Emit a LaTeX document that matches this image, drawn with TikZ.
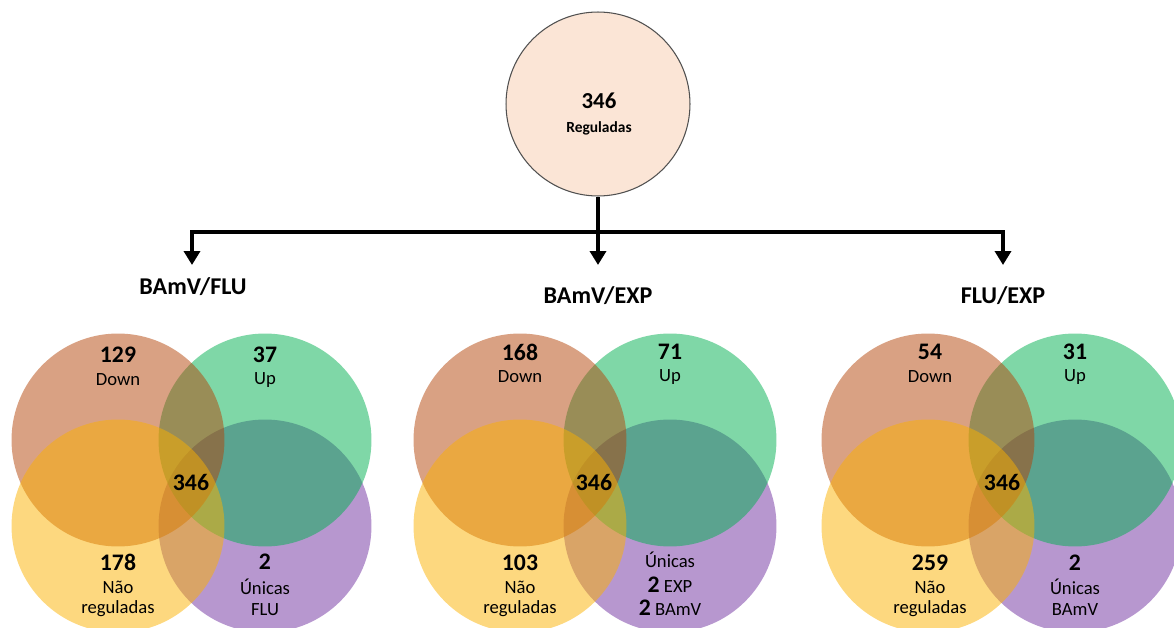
\documentclass[tikz,border=0pt]{standalone}
\usepackage{fontspec}
\setmainfont{Carlito}
\usepackage{tikz}
\usetikzlibrary{arrows.meta,positioning}
\definecolor{peach}{HTML}{FBE5D6}
\definecolor{rim}{HTML}{505050}
\definecolor{vdown}{HTML}{B44408}
\definecolor{vup}{HTML}{00B050}
\definecolor{vnot}{HTML}{FBB100}
\definecolor{vonly}{HTML}{7030A0}
\tikzset{
  venn/.style={
    circle, fill=#1, fill opacity=0.5, draw=none,
    minimum size=4.26cm, inner sep=0pt
  },
  venn/.default=vdown,
  rootcircle/.style={
    circle, fill=peach, draw=rim, line width=0.6pt,
    minimum size=3.68cm, inner sep=0pt
  },
  numlabel/.style={
    font=\fontsize{13.5}{15}\selectfont\bfseries, inner sep=0pt
  },
  txtlabel/.style={
    font=\fontsize{10.6}{12}\selectfont, inner sep=0pt
  },
  grouptitle/.style={
    font=\fontsize{13.7}{15}\selectfont\bfseries, inner sep=0pt
  },
  linkline/.style={
    line width=2.1pt
  },
  linkarrow/.style={
    line width=2.1pt, -{Triangle[length=0.28cm, width=0.32cm]}
  },
}

\begin{document}
\begin{tikzpicture}[x=0.02cm, y=-0.02cm]
  \useasboundingbox (0,0) rectangle (1174,628);
  \clip (0,0) rectangle (1174,628);

  % root
  \node[rootcircle] (reg) at (598,104) {};
  \node[font=\fontsize{13}{15}\selectfont\bfseries, inner sep=0pt]
    (reg-n) at (599,101) {346};
  \node[font=\fontsize{8.8}{10}\selectfont\bfseries, inner sep=0pt]
    (reg-t) at (599,128) {Reguladas};

  \coordinate (split) at (598,232);
  \coordinate (bf-tip) at (192,265);
  \coordinate (be-tip) at (598,265);
  \coordinate (fe-tip) at (1003,265);

  \draw[linkline] (reg) -- (split);
  \draw[linkarrow] (split) -- (be-tip);
  \draw[linkarrow] (split) -| (bf-tip);
  \draw[linkarrow] (split) -| (fe-tip);

  \node[grouptitle] (bf-title) at (193,287) {BAmV/FLU};
  \node[grouptitle] (be-title) at (598,296) {BAmV/EXP};
  \node[grouptitle] (fe-title) at (1003,296) {FLU/EXP};

  % BAmV/FLU
  \node[venn=vonly] (bf-only) at (265,526) {};
  \node[venn=vup] (bf-up) at (265,440) {};
  \node[venn=vdown] (bf-down) at (118,440) {};
  \node[venn=vnot] (bf-not) at (118,526) {};
  \node[numlabel] (bf-down-n) at (118,355) {129};
  \node[txtlabel] (bf-down-t) at (118,380) {Down};
  \node[numlabel] (bf-up-n) at (265,355) {37};
  \node[txtlabel] (bf-up-t) at (265,380) {Up};
  \node[numlabel] (bf-all) at (191,482) {346};
  \node[numlabel] (bf-not-n) at (118,562) {178};
  \node[txtlabel] (bf-not-t1) at (118,587) {Não};
  \node[txtlabel] (bf-not-t2) at (118,609) {reguladas};
  \node[numlabel] (bf-only-n) at (265,562) {2};
  \node[txtlabel] (bf-only-t1) at (265,587) {Únicas};
  \node[txtlabel] (bf-only-t2) at (265,610) {FLU};

  % BAmV/EXP
  \node[venn=vonly] (be-only) at (670,526) {};
  \node[venn=vup] (be-up) at (670,440) {};
  \node[venn=vdown] (be-down) at (520,440) {};
  \node[venn=vnot] (be-not) at (520,526) {};
  \node[numlabel] (be-down-n) at (520,352) {168};
  \node[txtlabel] (be-down-t) at (520,377) {Down};
  \node[numlabel] (be-up-n) at (670,352) {71};
  \node[txtlabel] (be-up-t) at (670,377) {Up};
  \node[numlabel] (be-all) at (594,482) {346};
  \node[numlabel] (be-not-n) at (520,563) {103};
  \node[txtlabel] (be-not-t1) at (520,587) {Não};
  \node[txtlabel] (be-not-t2) at (520,609) {reguladas};
  \node[txtlabel] (be-only-t) at (670,560) {Únicas};
  \node[txtlabel] (be-only-e) at (670,585)
    {{\fontsize{13.5}{15}\selectfont\bfseries 2} EXP};
  \node[txtlabel] (be-only-b) at (670,608)
    {{\fontsize{13.5}{15}\selectfont\bfseries 2} BAmV};

  % FLU/EXP
  \node[venn=vonly] (fe-only) at (1075,526) {};
  \node[venn=vup] (fe-up) at (1075,440) {};
  \node[venn=vdown] (fe-down) at (928,440) {};
  \node[venn=vnot] (fe-not) at (928,526) {};
  \node[numlabel] (fe-down-n) at (930,352) {54};
  \node[txtlabel] (fe-down-t) at (930,377) {Down};
  \node[numlabel] (fe-up-n) at (1075,352) {31};
  \node[txtlabel] (fe-up-t) at (1075,377) {Up};
  \node[numlabel] (fe-all) at (1002,482) {346};
  \node[numlabel] (fe-not-n) at (930,563) {259};
  \node[txtlabel] (fe-not-t1) at (930,587) {Não};
  \node[txtlabel] (fe-not-t2) at (930,609) {reguladas};
  \node[numlabel] (fe-only-n) at (1075,563) {2};
  \node[txtlabel] (fe-only-t1) at (1075,587) {Únicas};
  \node[txtlabel] (fe-only-t2) at (1075,610) {BAmV};
\end{tikzpicture}
\end{document}
